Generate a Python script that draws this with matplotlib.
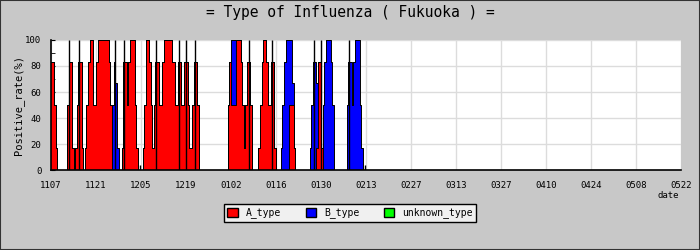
import numpy as np
import matplotlib.pyplot as plt
from matplotlib.patches import Patch, Rectangle

plt.rcParams['font.family'] = ['DejaVu Sans Mono']

# half-day cells starting at 1107 (day 0), positive rate in %
a_type = [
    83, 83, 50, 17, 0, 0, 0, 0, 0, 0, 50, 83, 83, 17,
    0, 17, 50, 83, 83, 17, 0, 17, 50, 83, 100, 100, 50, 50,
    83, 100, 100, 100, 100, 100, 100, 100, 83, 50, 0, 0, 0, 0,
    0, 0, 17, 83, 83, 50, 83, 100, 100, 100, 50, 17, 0, 0,
    0, 17, 50, 100, 100, 83, 50, 17, 50, 83, 83, 50, 50, 83,
    100, 100, 100, 100, 100, 83, 83, 50, 50, 83, 83, 50, 50, 83,
    83, 50, 17, 17, 50, 83, 83, 50, 0, 0, 0, 0, 0, 0,
    0, 0, 0, 0, 0, 0, 0, 0, 0, 0, 0, 0, 50, 83,
    50, 50, 50, 100, 100, 100, 83, 50, 17, 50, 83, 83, 50, 0,
    0, 0, 0, 17, 50, 83, 100, 100, 83, 50, 50, 83, 83, 17,
    0, 0, 0, 0, 0, 0, 0, 0, 50, 50, 50, 17, 0, 0,
    0, 0, 0, 0, 0, 0, 0, 0, 0, 0, 0, 17, 83, 83,
    17, 0, 0, 0, 0, 0, 0, 0, 0, 0, 0, 0, 0, 0,
    0, 0, 0, 0, 0, 0, 0, 0, 0, 0, 0, 0, 0, 0,
]
b_type = [
    0, 0, 0, 0, 0, 0, 0, 0, 0, 0, 0, 0, 0, 0,
    0, 0, 0, 0, 0, 0, 0, 0, 0, 0, 0, 0, 0, 0,
    0, 0, 0, 0, 0, 0, 0, 0, 0, 0, 50, 83, 67, 17,
    0, 0, 0, 0, 0, 0, 0, 0, 0, 0, 0, 0, 0, 0,
    0, 0, 0, 0, 0, 0, 0, 0, 0, 0, 0, 0, 0, 0,
    0, 0, 0, 0, 0, 0, 0, 0, 0, 0, 0, 0, 0, 0,
    0, 0, 0, 0, 0, 0, 0, 0, 0, 0, 0, 0, 0, 0,
    0, 0, 0, 0, 0, 0, 0, 0, 0, 0, 0, 0, 0, 0,
    50, 50, 50, 0, 0, 0, 0, 0, 0, 0, 0, 0, 0, 0,
    0, 0, 0, 0, 0, 0, 0, 0, 0, 0, 0, 0, 0, 0,
    0, 0, 0, 17, 50, 83, 100, 100, 50, 50, 17, 0, 0, 0,
    0, 0, 0, 0, 0, 0, 0, 17, 50, 83, 83, 50, 0, 0,
    0, 50, 83, 100, 100, 100, 83, 50, 0, 0, 0, 0, 0, 0,
    0, 0, 50, 83, 83, 50, 83, 100, 100, 100, 50, 17, 0, 0,
]
unknown_type = [0] * 196

# single reports that hit 100% (thin needles) and tiny ones
spike_days = [5.7, 8.8, 19.8, 22.8, 32.8, 39.8, 42.0, 44.9, 61.5, 68.9, 81.7, 83.9, 92.8, 27.7, 97.8]
spike_tops = [100, 100, 100, 100, 100, 100, 100, 100, 100, 100, 100, 100, 100, 4, 4]

tick_days = [0, 14, 28, 42, 56, 70, 84, 98, 112, 126, 140, 154, 168, 182, 196]
tick_labels = ['1107', '1121', '1205', '1219', '0102', '0116', '0130', '0213',
               '0227', '0313', '0327', '0410', '0424', '0508', '0522']

a = np.array(a_type, dtype=float)
b = np.array(b_type, dtype=float)
u = np.array(unknown_type, dtype=float)
x = np.arange(len(a) + 1) * 0.5
a_e = np.append(a, a[-1])
ab_e = np.append(a + b, (a + b)[-1])
abu_e = np.append(a + b + u, (a + b + u)[-1])

fig = plt.figure(figsize=(7, 2.5), dpi=100, facecolor='#c8c8c8')
fig.add_artist(Rectangle((0, 0), 1, 1, transform=fig.transFigure, fill=False,
                         edgecolor='#333333', lw=1.5))
ax = fig.add_axes([51 / 700, 80 / 250, 630 / 700, 130 / 250])
ax.set_facecolor('white')

ax.fill_between(x, 0, a_e, step='post', color='#ff0000', lw=0, zorder=2)
ax.fill_between(x, a_e, ab_e, step='post', color='#0000ff', lw=0, zorder=2)
ax.fill_between(x, ab_e, abu_e, step='post', color='#00ff00', lw=0, zorder=2)
ax.step(x, a_e, where='post', color='black', lw=0.7, zorder=3)
ax.step(x, ab_e, where='post', color='black', lw=0.7, zorder=3)
ax.vlines(spike_days, 0, spike_tops, color='black', lw=1.0, zorder=4)

ax.set_xlim(0, 196)
ax.set_ylim(0, 100)
ax.set_xticks(tick_days)
ax.set_xticklabels(tick_labels, fontsize=6.5)
ax.set_yticks([0, 20, 40, 60, 80, 100])
ax.set_yticks(np.arange(0, 101, 10), minor=True)
ax.tick_params(axis='x', length=0, pad=8)
ax.tick_params(axis='y', which='both', direction='in', length=3, labelsize=6.5, pad=7)
ax.grid(True, color='#dcdcdc', lw=1, zorder=0)
ax.set_axisbelow(True)
for s in ['top', 'right']:
    ax.spines[s].set_visible(False)
ax.spines['left'].set_linewidth(1.2)
ax.spines['bottom'].set_linewidth(1.2)

ax.set_ylabel('Positive_rate(%)', fontsize=7.5, labelpad=1)
fig.text(0.5, 1 - 13 / 250, '= Type of Influenza ( Fukuoka ) =', ha='center', va='center',
         fontsize=10.5)
fig.text(668 / 700, 1 - 196 / 250, 'date', ha='center', va='center', fontsize=6.5)

handles = [Patch(facecolor='#ff0000', edgecolor='black', label='A_type'),
           Patch(facecolor='#0000ff', edgecolor='black', label='B_type'),
           Patch(facecolor='#00ff00', edgecolor='black', label='unknown_type')]
leg = fig.legend(handles=handles, loc='center', bbox_to_anchor=(0.5, 1 - 213 / 250), ncol=3,
                 fontsize=7, frameon=True, fancybox=False, edgecolor='black',
                 facecolor='#f0f0f0', framealpha=1, handlelength=1.1, handleheight=1.1,
                 columnspacing=2.5, handletextpad=0.8, borderpad=0.4)
leg.get_frame().set_linewidth(1)

fig.savefig('out.png', dpi=100, facecolor=fig.get_facecolor())
